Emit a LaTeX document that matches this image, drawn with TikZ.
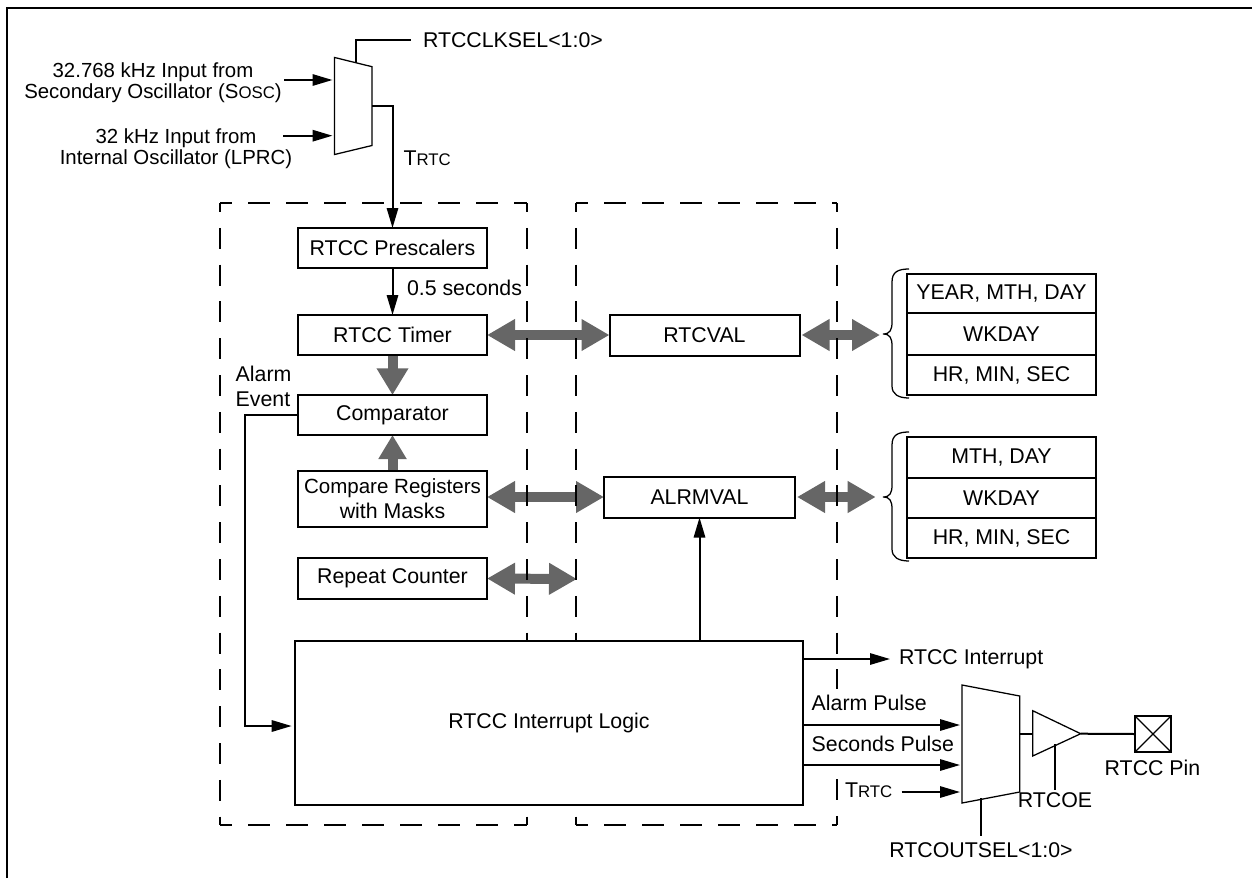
\documentclass[tikz,border=0pt]{standalone}
\usepackage{fontspec}
\setmainfont{Liberation Sans}
\usetikzlibrary{arrows.meta}
\pgfdeclarelayer{grayl}
\pgfdeclarelayer{dashl}
\pgfsetlayers{grayl,dashl,main}
\definecolor{busgray}{HTML}{666666}
\newcommand{\subc}[1]{{\fontsize{12.6}{12.6}\selectfont #1}}
\tikzset{
  txt/.style={inner sep=0pt,outer sep=0pt,align=center,font=\fontsize{16}{18.6}\selectfont},
  txtl/.style={txt,anchor=west,align=left},
  inp/.style={inner sep=0pt,outer sep=0pt,align=center,font=\fontsize{15.3}{15.75}\selectfont},
  blk/.style={txt,draw,fill=white,line width=1.5pt},
  wire/.style={line width=1.5pt,line join=miter},
  thin wire/.style={line width=0.95pt,line join=miter},
  arr/.style={wire,-{Triangle[width=8.5pt,length=15pt]}},
  bus/.style={line width=7.5pt,busgray,{Triangle[width=22.5pt,length=21pt]}-{Triangle[width=22.5pt,length=21pt]}},
  busone/.style={line width=7.5pt,busgray,-{Triangle[width=22.5pt,length=20pt]}},
  dashh/.style={line width=1.5pt,dash pattern=on 16.5pt off 12pt,dash phase=7.5pt},
  dashv/.style={line width=1.5pt,dash pattern=on 15.75pt off 11.85pt,dash phase=9pt},
}
\begin{document}
\begin{tikzpicture}[x=0.75pt,y=-0.75pt]
\useasboundingbox (0,0) rectangle (1252,878);
% frame
\coordinate (fa) at (7,878); \coordinate (fb) at (7,8); \coordinate (fc) at (1252,8);
\draw[line width=1.7pt,line join=miter] (fa) -- (fb) -- (fc);

% blocks
\node[blk,minimum width=189*0.75pt,minimum height=40*0.75pt] (pre) at (392.5,248) {RTCC Prescalers};
\node[blk,minimum width=189*0.75pt,minimum height=40*0.75pt] (timer) at (392.5,335) {RTCC Timer};
\node[blk,minimum width=189*0.75pt,minimum height=40*0.75pt] (cmp) at (392.5,415) {Comparator};
\node[blk,minimum width=189*0.75pt,minimum height=56*0.75pt] (regs) at (392.5,499) {{\fontsize{15.4}{18.6}\selectfont Compare Registers}\\with Masks};
\node[blk,minimum width=189*0.75pt,minimum height=41*0.75pt] (rep) at (392.5,578.5) {Repeat Counter};
\node[blk,minimum width=190*0.75pt,minimum height=41*0.75pt] (rtcval) at (704.5,335) {RTCVAL};
\node[blk,minimum width=191*0.75pt,minimum height=41*0.75pt] (alrm) at (699.5,497) {ALRMVAL};
\node[blk,minimum width=508*0.75pt,minimum height=164*0.75pt] (logic) at (549,723) {RTCC Interrupt Logic};
% tables
\node[blk,minimum width=189*0.75pt,minimum height=39.5*0.75pt] (t1a) at (1001.5,293.5) {YEAR, MTH, DAY};
\node[blk,minimum width=189*0.75pt,minimum height=41.5*0.75pt] (t1b) at (1001.5,334) {WKDAY};
\node[blk,minimum width=189*0.75pt,minimum height=40.5*0.75pt] (t1c) at (1001.5,375) {HR, MIN, SEC};
\node[blk,minimum width=189*0.75pt,minimum height=41*0.75pt] (t2a) at (1001.5,457.5) {MTH, DAY};
\node[blk,minimum width=189*0.75pt,minimum height=40*0.75pt] (t2b) at (1001.5,498) {WKDAY};
\node[blk,minimum width=189*0.75pt,minimum height=40*0.75pt] (t2c) at (1001.5,538) {HR, MIN, SEC};

% dashed boxes
\begin{pgfonlayer}{dashl}
\coordinate (da) at (220,203); \coordinate (db) at (527,203); \coordinate (dc) at (527,825); \coordinate (dd) at (220,825);
\coordinate (ea) at (576,203); \coordinate (eb) at (837,203); \coordinate (ec) at (837,825); \coordinate (ed) at (576,825);
\coordinate (ef) at (837,689); \coordinate (eg) at (837,779);
\draw[dashh] (da) -- (db);
\draw[dashh] (dd) -- (dc);
\draw[dashh] (ea) -- (eb);
\draw[dashh] (ed) -- (ec);
\draw[dashv] (da) -- (dd);
\draw[dashv] (db) -- (dc);
\draw[dashv] (ea) -- (ed);
\draw[dashv] (eb) -- (ef);
\draw[line width=1.5pt,dash pattern=on 15.75pt off 11.85pt] (eg) -- (ec);
\end{pgfonlayer}

% gray buses
\begin{pgfonlayer}{grayl}
\coordinate (repend) at (577,579);
\coordinate (brace1tip) at (880,335);
\coordinate (brace2tip) at (875.7,497);
\draw[bus] (timer.east) -- (rtcval.west);
\draw[bus] (regs.east |- alrm.west) -- (alrm.west);
\draw[bus] (rep.east) -- (repend);
\draw[bus] (rtcval.east) ++(2,0) -- (brace1tip);
\draw[bus] (alrm.east) ++(2,0) -- (brace2tip);
\draw[busone] (timer.south) -- (cmp.north);
\draw[line width=7.5pt,busgray,-{Triangle[width=20pt,length=18pt]}] (regs.north) -- (cmp.south);
\end{pgfonlayer}

% clock mux
\coordinate (m1a) at (334.6,57.5); \coordinate (m1b) at (372,66.7);
\coordinate (m1c) at (372,145.5); \coordinate (m1d) at (334.6,154.5);
\draw[thin wire] (m1a) -- (m1b) -- (m1c) -- (m1d) -- cycle;
\coordinate (m1sel) at (356,62.5);
\coordinate (clkend) at (411,40);
\node[txtl] (clk) at (423,40.5) {RTCCLKSEL<1:0>};
\draw[wire] (m1sel) |- (clkend);
\node[inp] (in1) at (153,82.5) {32.768 kHz Input from\\Secondary Oscillator (S\subc{OSC})};
\node[inp] (in2) at (176,148.5) {32 kHz Input from\\Internal Oscillator (LPRC)};
\coordinate (i1s) at (284,80); \coordinate (i1e) at (332.5,80);
\coordinate (i2s) at (283,135.7); \coordinate (i2e) at (332.5,135.7);
\draw[arr] (i1s) -- (i1e);
\draw[arr] (i2s) -- (i2e);
\coordinate (m1out) at (372,105.7);
\draw[arr] (m1out) -| (pre.north);
\node[txtl] (trtc1) at (403.5,158) {T\subc{RTC}};
\draw[arr] (pre.south) -- (timer.north);
\node[txtl] (half) at (407,288) {0.5 seconds};

% alarm event
\node[txt,anchor=west,align=left] (alarm) at (235.7,386.5) {Alarm\\Event};
\coordinate (logicin) at (291.7,726);
\coordinate (alarmx) at (245,726);
\draw[arr] (cmp.west) -| (alarmx) -- (logicin);
\draw[arr] (logic.north -| alrm.south) -- (alrm.south);

% braces
\coordinate (b1a) at (909,269); \coordinate (b1t) at (883,334); \coordinate (b1b) at (909,398);
\coordinate (b2a) at (909,432); \coordinate (b2t) at (883,497); \coordinate (b2b) at (909,561);
\draw[thin wire] (b1a) .. controls (898,269) and (892,272) .. (892,282) -- (892,322)
  .. controls (892,330) and (890,334) .. (b1t)
  .. controls (890,334) and (892,338) .. (892,346) -- (892,386)
  .. controls (892,394) and (898,398) .. (b1b);
\draw[thin wire] (b2a) .. controls (898,432) and (892,435) .. (892,445) -- (892,485)
  .. controls (892,493) and (890,497) .. (b2t)
  .. controls (890,497) and (892,501) .. (892,509) -- (892,549)
  .. controls (892,557) and (898,561) .. (b2b);

% output section
\coordinate (m2a) at (962,685); \coordinate (m2b) at (1019.7,696);
\coordinate (m2c) at (1019.7,792); \coordinate (m2d) at (962,803);
\draw[thin wire] (m2a) -- (m2b) -- (m2c) -- (m2d) -- cycle;
\coordinate (intend) at (890,659);
\node[txtl] (intr) at (899,659) {RTCC Interrupt};
\draw[arr] (logic.east |- intend) -- (intend);
\node[txtl] (apul) at (811.7,703) {Alarm Pulse};
\node[txtl] (spul) at (811.7,744) {Seconds Pulse};
\node[txtl] (trtc2) at (845,790) {T\subc{RTC}};
\coordinate (ae) at (960,725); \coordinate (se) at (960,765);
\coordinate (ts) at (901.7,792); \coordinate (te) at (960,792);
\draw[arr] (logic.east |- ae) -- (ae);
\draw[arr] (logic.east |- se) -- (se);
\draw[arr] (ts) -- (te);
\coordinate (m2sel) at (981,798); \coordinate (m2sele) at (981,835.7);
\draw[wire] (m2sel) -- (m2sele);
\node[txt] (osel) at (981,850) {RTCOUTSEL<1:0>};
\coordinate (bufa) at (1032.7,710.7); \coordinate (bufb) at (1032.7,756); \coordinate (buft) at (1080.7,733.7);
\draw[thin wire] (bufa) -- (buft) -- (bufb) -- cycle;
\coordinate (m2out) at (1019.7,733.7);
\coordinate (bufin) at (1032.7,733.7);
\draw[wire] (m2out) -- (bufin);
\node[draw,line width=1.5pt,inner sep=0pt,outer sep=0pt,minimum width=36*0.75pt,minimum height=36*0.75pt] (pin) at (1153,734) {};
\draw[wire] (buft) -- (pin.west);
\draw[thin wire] (pin.north west) -- (pin.south east);
\draw[thin wire] (pin.north east) -- (pin.south west);
\node[txt] (pinl) at (1152.5,768) {RTCC Pin};
\coordinate (oes) at (1055,744); \coordinate (oee) at (1055,790);
\draw[wire] (oes) -- (oee);
\node[txt] (oel) at (1055,800) {RTCOE};
\end{tikzpicture}
\end{document}
